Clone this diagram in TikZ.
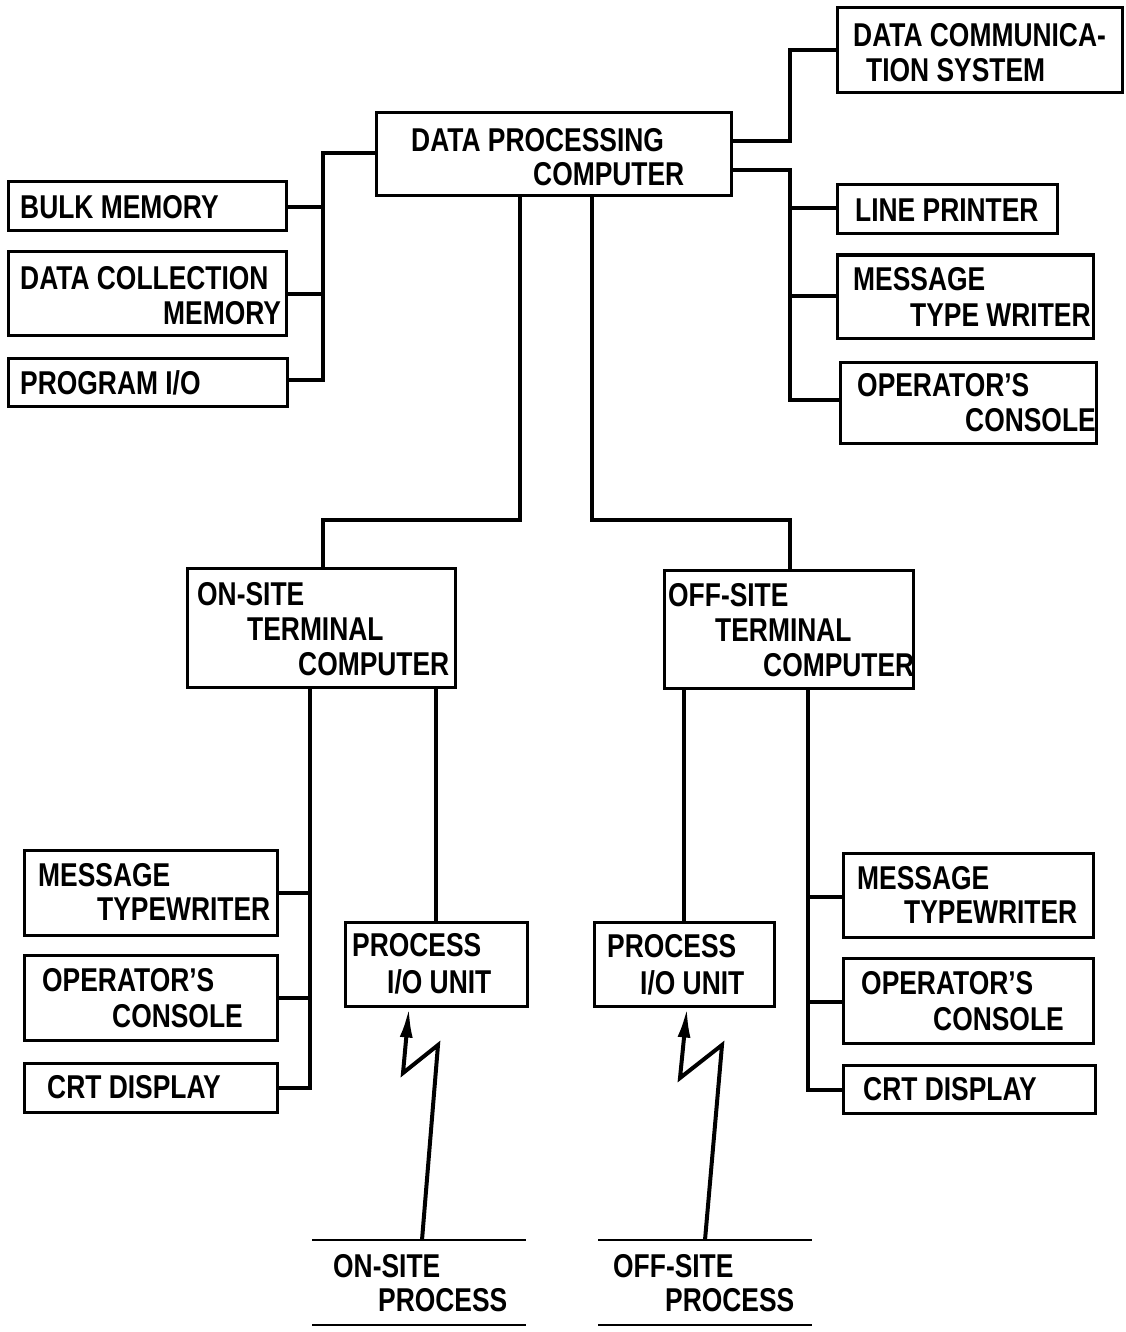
\documentclass[tikz,border=0pt]{standalone}
\usepackage{fontspec}
\setmainfont{Liberation Sans}[FakeStretch=0.8]
\usetikzlibrary{arrows.meta}
\begin{document}
\begin{tikzpicture}[x=1pt,y=-1pt,
  box/.style={draw,line width=3pt,inner sep=0pt},
  lbl/.style={anchor=west,inner sep=0pt,font=\fontsize{33}{36}\selectfont\bfseries},
  conn/.style={line width=4pt,line cap=rect,line join=miter},
  bolt/.style={line width=4pt,line join=miter,-{Latex[length=30pt,width=13pt]}},
  rule/.style={line width=2.8pt}]
\useasboundingbox[fill=white] (0,0) rectangle (1125,1332);
% boxes: corner-defined
\newcommand{\bx}[5]{\node[box,minimum width=#4-#2,minimum height=#5-#3] (#1) at ({(#2+#4)/2},{(#3+#5)/2}) {};}
\bx{dpc}{376}{113}{731}{196}
\bx{dcs}{837}{8}{1122}{93}
\bx{lp}{837}{185}{1057}{234}
\bx{mtw}{837}{255}{1093}{338}
\bx{oc}{840}{362}{1096}{443}
\bx{bm}{8}{182}{286}{231}
\bx{dcm}{8}{252}{286}{335}
\bx{pio}{8}{358}{287}{406}
\bx{on}{187}{568}{455}{687}
\bx{off}{664}{570}{913}{688}
\bx{lmt}{24}{850}{277}{935}
\bx{loc}{24}{955}{277}{1040}
\bx{lcrt}{24}{1063}{277}{1112}
\bx{lpu}{345}{922}{527}{1006}
\bx{rpu}{594}{922}{774}{1006}
\bx{rmt}{843}{853}{1093}{937}
\bx{roc}{843}{958}{1093}{1043}
\bx{rcrt}{843}{1065}{1095}{1113}
% labels
\node[lbl] (t1) at (411,140) {DATA PROCESSING};
\node[lbl] (t2) at (533,174) {COMPUTER};
\node[lbl] (t3) at (853,35) {DATA COMMUNICA-};
\node[lbl] (t4) at (866,70) {TION SYSTEM};
\node[lbl] (t5) at (20,207) {BULK MEMORY};
\node[lbl] (t6) at (20,278) {DATA COLLECTION};
\node[lbl] (t7) at (163,313) {MEMORY};
\node[lbl] (t8) at (20,383) {PROGRAM I/O};
\node[lbl] (t9) at (855,210) {LINE PRINTER};
\node[lbl] (t10) at (853,279) {MESSAGE};
\node[lbl] (t11) at (910,315) {TYPE WRITER};
\node[lbl] (t12) at (857,385) {OPERATOR'S};
\node[lbl] (t13) at (965,420) {CONSOLE};
\node[lbl] (t14) at (197,594) {ON-SITE};
\node[lbl] (t15) at (247,629) {TERMINAL};
\node[lbl] (t16) at (298,664) {COMPUTER};
\node[lbl] (t17) at (668,595) {OFF-SITE};
\node[lbl] (t18) at (715,630) {TERMINAL};
\node[lbl] (t19) at (763,665) {COMPUTER};
\node[lbl] (t20) at (38,875) {MESSAGE};
\node[lbl] (t21) at (97,909) {TYPEWRITER};
\node[lbl] (t22) at (42,980) {OPERATOR'S};
\node[lbl] (t23) at (112,1016) {CONSOLE};
\node[lbl] (t24) at (47,1087) {CRT DISPLAY};
\node[lbl] (t25) at (352,945) {PROCESS};
\node[lbl] (t26) at (387,982) {I/O UNIT};
\node[lbl] (t27) at (607,946) {PROCESS};
\node[lbl] (t28) at (640,983) {I/O UNIT};
\node[lbl] (t29) at (857,878) {MESSAGE};
\node[lbl] (t30) at (904,912) {TYPEWRITER};
\node[lbl] (t31) at (861,983) {OPERATOR'S};
\node[lbl] (t32) at (933,1019) {CONSOLE};
\node[lbl] (t33) at (863,1089) {CRT DISPLAY};
\node[lbl] (t34) at (333,1266) {ON-SITE};
\node[lbl] (t35) at (378,1300) {PROCESS};
\node[lbl] (t36) at (613,1266) {OFF-SITE};
\node[lbl] (t37) at (665,1300) {PROCESS};
% process rules
\coordinate (onA) at (312,1240); \coordinate (onB) at (526,1240);
\coordinate (onC) at (312,1325); \coordinate (onD) at (526,1325);
\coordinate (ofA) at (598,1240); \coordinate (ofB) at (812,1240);
\coordinate (ofC) at (598,1325); \coordinate (ofD) at (812,1325);
\draw[rule] (onA) -- (onB); \draw[rule] (onC) -- (onD);
\draw[rule] (ofA) -- (ofB); \draw[rule] (ofC) -- (ofD);
% connectors
\draw[conn] (dpc.east |- 0,141) -- (790,141) |- (dcs.west |- 0,50);
\draw[conn] (dpc.east |- 0,170) -- (790,170) |- (oc.west |- 0,400);
\draw[conn] (790,208) -- (lp.west |- 0,208);
\draw[conn] (790,296) -- (mtw.west |- 0,296);
\draw[conn] (dpc.west |- 0,153) -- (323,153) |- (pio.east |- 0,380);
\draw[conn] (bm.east |- 0,207) -- (323,207);
\draw[conn] (dcm.east |- 0,294) -- (323,294);
\draw[conn] (dpc.south -| 520,0) -- (520,520) -| (on.north -| 323,0);
\draw[conn] (dpc.south -| 592,0) -- (592,520) -| (off.north -| 790,0);
\draw[conn] (on.south -| 310,0) -- (310,1088) -- (lcrt.east |- 0,1088);
\draw[conn] (310,893) -- (lmt.east |- 0,893);
\draw[conn] (310,998) -- (loc.east |- 0,998);
\draw[conn] (on.south -| 436,0) -- (lpu.north -| 436,0);
\draw[conn] (off.south -| 684,0) -- (rpu.north -| 684,0);
\draw[conn] (off.south -| 808,0) -- (808,1090) -- (rcrt.west |- 0,1090);
\draw[conn] (808,897) -- (rmt.west |- 0,897);
\draw[conn] (808,1002) -- (roc.west |- 0,1002);
% lightning bolts
\draw[bolt] (onA -| 422,0) -- (438,1045) -- (403,1073) -- (lpu.south -| 409,0);
\draw[bolt] (ofA -| 705,0) -- (722,1045) -- (680,1078) -- (rpu.south -| 687,0);
\end{tikzpicture}
\end{document}
